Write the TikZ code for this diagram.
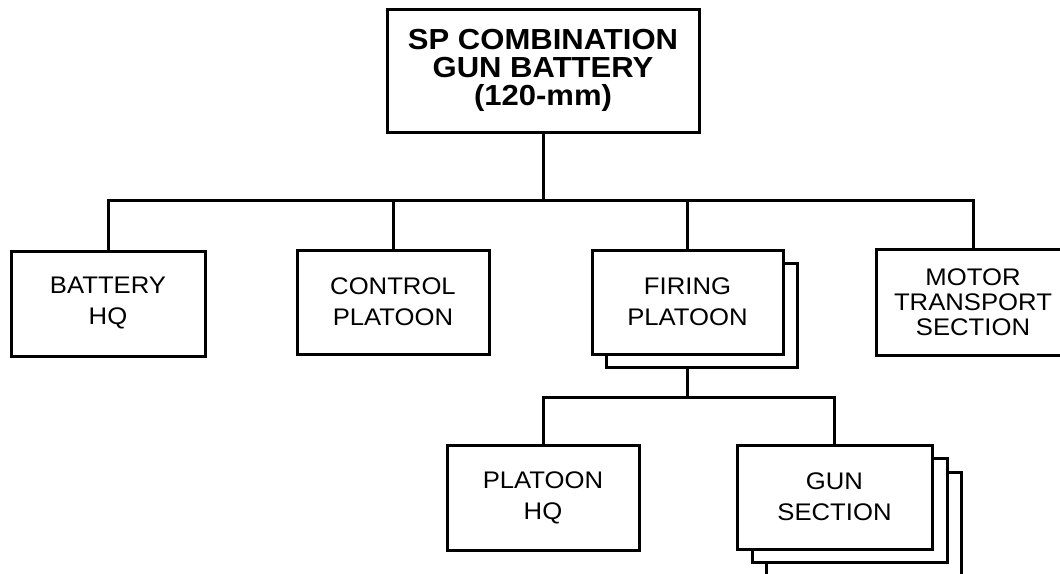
\documentclass[tikz,border=0pt]{standalone}
\usepackage{fontspec}
\setmainfont{Liberation Sans}[FakeStretch=1.07]
\tikzset{
  x=1pt, y=-1pt,
  orgline/.style={line width=3pt, black},
  orgbox/.style={draw, orgline, fill=white, rectangle, inner sep=0pt, align=center,
     font={\fontsize{24}{31}\selectfont}},
  topbox/.style={orgbox, font={\fontsize{29}{28}\selectfont\bfseries}},
}
\begin{document}
\begin{tikzpicture}
\clip (0,0) rectangle (1060,573);
\fill[white] (0,0) rectangle (1060,573);

% top
\node[topbox, minimum width=312pt, minimum height=123pt] (top) at (543,70.5)
  {SP COMBINATION\\GUN BATTERY\\(120-mm)};

% second row
\node[orgbox, minimum width=194pt, minimum height=105pt] (bhq) at (108,303.5) {BATTERY\\HQ};
\node[orgbox, minimum width=192pt, minimum height=104pt] (ctl) at (393,302) {CONTROL\\PLATOON};
\node[orgbox, minimum width=191pt, minimum height=104pt] (firS) at (701.5,315) {};
\node[orgbox, minimum width=191pt, minimum height=104pt] (fir) at (687.5,302) {FIRING\\PLATOON};
\node[orgbox, minimum width=194pt, minimum height=106pt, font={\fontsize{24}{25}\selectfont}] (mot) at (973,302) {MOTOR\\TRANSPORT\\SECTION};

% third row
\node[orgbox, minimum width=192pt, minimum height=105pt] (phq) at (543,497.5) {PLATOON\\HQ};
\node[orgbox, minimum width=195pt, minimum height=104pt] (gunS2) at (864,524) {};
\node[orgbox, minimum width=195pt, minimum height=104pt] (gunS1) at (849.5,510.5) {};
\node[orgbox, minimum width=195pt, minimum height=104pt] (gun) at (834.5,497) {GUN\\SECTION};

% buses
\coordinate (bus) at (543,200);
\coordinate (bus2) at (687,397);

\draw[orgline] (top.south) -- (bus);
\draw[orgline] (bhq.north) |- (bus) -| (mot.north);
\draw[orgline] (ctl.north) -- (ctl.north |- bus);
\draw[orgline] (fir.north) -- (fir.north |- bus);

\draw[orgline] (fir.center |- firS.south) -- (fir.center |- bus2);
\draw[orgline] (phq.north) |- (bus2) -| (gun.north);
\end{tikzpicture}
\end{document}
